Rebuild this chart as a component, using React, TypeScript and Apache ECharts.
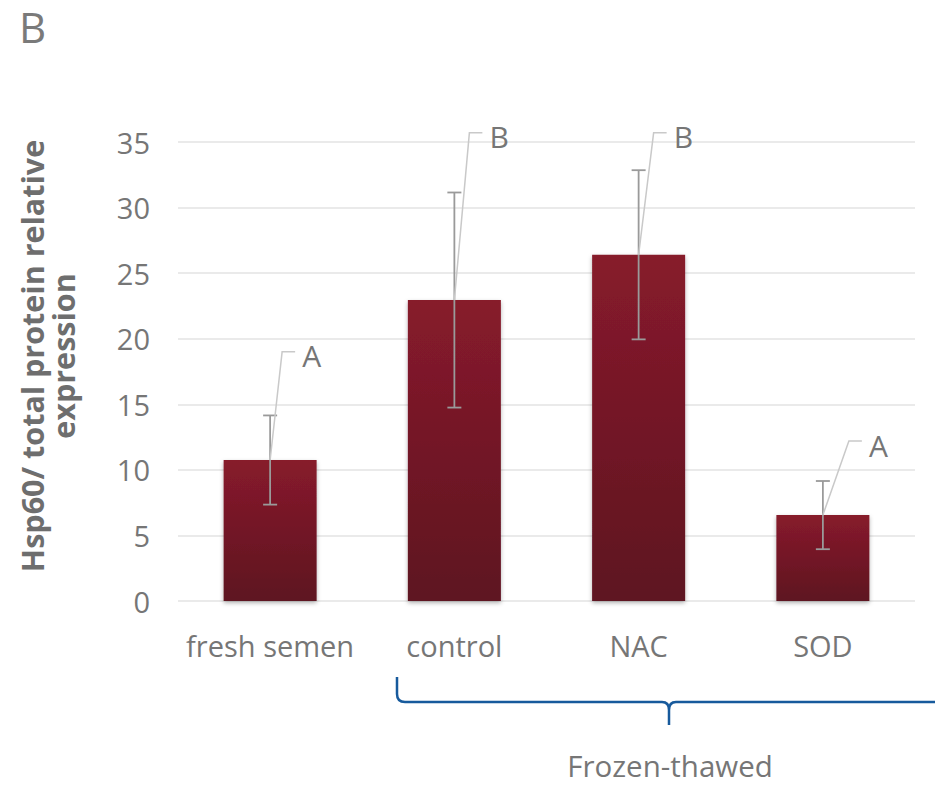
import React, { useEffect, useRef } from "react";
import * as echarts from "echarts";

const categories = ["fresh semen", "control", "NAC", "SOD"];
const values = [10.75, 22.95, 26.4, 6.55];
const errors = [3.4, 8.2, 6.45, 2.6];
const sigLetters = ["A", "B", "B", "A"];
const letterHeights = [19.0, 35.7, 35.7, 12.2];
const yTicks = { min: 0, max: 35, interval: 5 };
const groupLabel = "Frozen-thawed";
const panelLabel = "B";
const yTitle = "Hsp60/ total protein relative\nexpression";

const LEADER_DX = [12, 15, 15, 26];
const FONT = "'Open Sans', 'Noto Sans', sans-serif";
const GRAY = "#767676";

echarts.graphic.registerShape(
  "brace",
  echarts.graphic.extendPath(
    "M397,677 L397,694 Q397,702 405,702 L662,702 Q669,702 669,710 L669,725 M669,710 Q669,702 676,702 L935,702",
    {}
  )
);

export default function App() {
  const ref = useRef<HTMLDivElement>(null);
  useEffect(() => {
    if (!ref.current) return;
    document.body.style.margin = "0";
    const chart = echarts.init(ref.current, null, { renderer: "svg" });
    const option = {
      animation: false,
      backgroundColor: "#ffffff",
      grid: { left: 178, right: 20, top: 142, bottom: 184, containLabel: false, outerBoundsMode: "none" },
      xAxis: {
        type: "category",
        data: categories,
        axisLine: { show: false },
        axisTick: { show: false },
        axisLabel: { color: GRAY, fontSize: 29, fontFamily: FONT, margin: 30, interval: 0 },
      },
      yAxis: {
        type: "value",
        min: yTicks.min,
        max: yTicks.max,
        interval: yTicks.interval,
        axisLine: { show: false },
        axisTick: { show: false },
        axisLabel: { color: GRAY, fontSize: 29, fontFamily: FONT, margin: 28 },
        splitLine: { lineStyle: { color: "#e3e3e3", width: 1.5 } },
      },
      series: [
        {
          type: "bar",
          data: values,
          barWidth: 93,
          itemStyle: {
            color: new echarts.graphic.LinearGradient(0, 0, 0, 1, [
              { offset: 0, color: "#871b2c" },
              { offset: 1, color: "#5e1220" },
            ]),
            shadowColor: "rgba(0,0,0,0.3)",
            shadowBlur: 4,
            shadowOffsetY: 2,
          },
          z: 2,
        },
        {
          type: "custom",
          z: 3,
          clip: false,
          data: values.map((v, i) => [i, v, errors[i]]),
          renderItem: (params: any, api: any) => {
            const i = api.value(0);
            const v = api.value(1);
            const e = api.value(2);
            const top = api.coord([i, v + e]);
            const bot = api.coord([i, v - e]);
            const hw = 7;
            const style = { stroke: "#9a9a9a", lineWidth: 1.8 };
            return {
              type: "group",
              children: [
                { type: "line", shape: { x1: top[0], y1: top[1], x2: bot[0], y2: bot[1] }, style },
                { type: "line", shape: { x1: top[0] - hw, y1: top[1], x2: top[0] + hw, y2: top[1] }, style },
                { type: "line", shape: { x1: bot[0] - hw, y1: bot[1], x2: bot[0] + hw, y2: bot[1] }, style },
              ],
            };
          },
        },
        {
          type: "custom",
          z: 4,
          clip: false,
          data: values.map((v, i) => [i, v, letterHeights[i]]),
          renderItem: (params: any, api: any) => {
            const idx = params.dataIndex;
            const i = api.value(0);
            const v = api.value(1);
            const h = api.value(2);
            const start = api.coord([i, v]);
            const knee = api.coord([i, h]);
            const kx = start[0] + LEADER_DX[idx];
            const ky = knee[1];
            return {
              type: "group",
              children: [
                {
                  type: "polyline",
                  shape: { points: [[start[0], start[1]], [kx, ky], [kx + 13, ky]] },
                  style: { stroke: "#c9c9c9", lineWidth: 1.5, fill: "none" },
                },
                {
                  type: "text",
                  x: kx + 20,
                  y: ky + 4,
                  style: {
                    text: sigLetters[idx],
                    fill: GRAY,
                    fontSize: 30,
                    fontFamily: FONT,
                    verticalAlign: "middle",
                    align: "left",
                  },
                },
              ],
            };
          },
        },
      ],
      graphic: [
        {
          type: "text",
          left: 19,
          top: 5,
          style: { text: panelLabel, fill: "#7a7a7a", fontSize: 42, fontFamily: FONT },
        },
        {
          type: "text",
          x: 47,
          y: 356,
          rotation: Math.PI / 2,
          style: {
            text: yTitle,
            fill: "#6e6e6e",
            fontSize: 30.5,
            fontWeight: "bold",
            fontFamily: FONT,
            lineHeight: 31,
            align: "center",
            verticalAlign: "middle",
          },
        },
        {
          type: "brace",
          x: 0,
          y: 0,
          style: { stroke: "#175a9c", lineWidth: 2.5, fill: "none" },
        },
        {
          type: "text",
          x: 670,
          y: 765,
          style: {
            text: groupLabel,
            fill: GRAY,
            fontSize: 29.5,
            fontFamily: FONT,
            align: "center",
            verticalAlign: "middle",
          },
        },
      ],
    };
    chart.setOption(option as any);
    return () => chart.dispose();
  }, []);
  return <div ref={ref} style={{ width: 935, height: 785 }} />;
}
